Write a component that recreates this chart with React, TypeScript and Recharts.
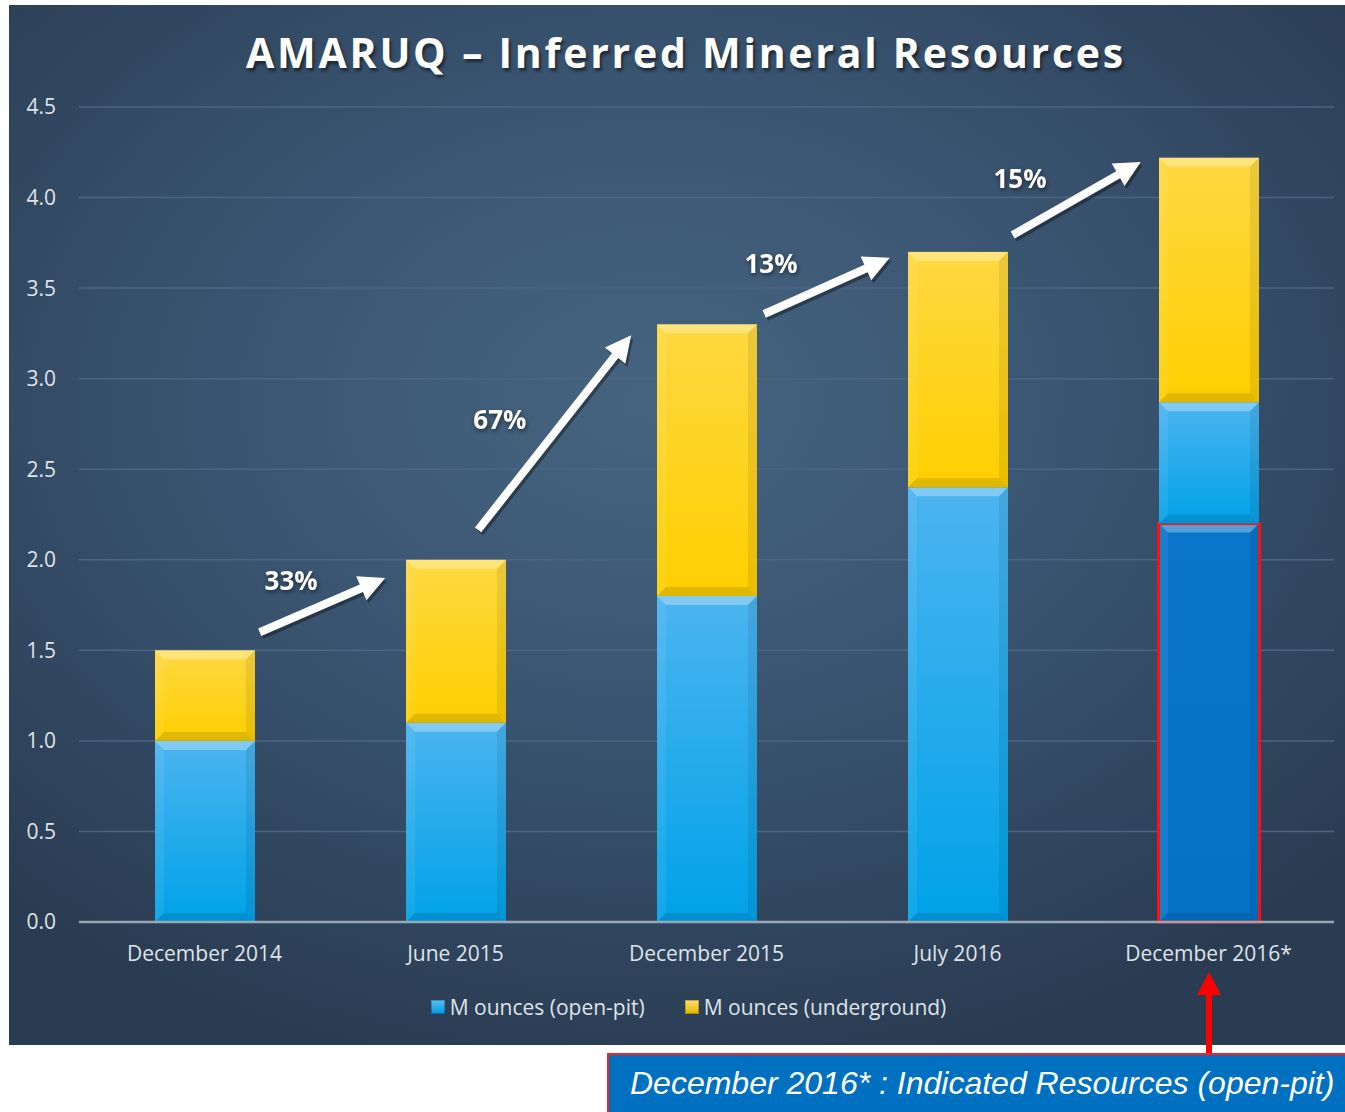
import React from "react";
import {
  BarChart,
  Bar,
  XAxis,
  YAxis,
  CartesianGrid,
  Legend,
  ReferenceLine,
  ReferenceDot,
} from "recharts";

const categories = ["December 2014", "June 2015", "December 2015", "July 2016", "December 2016*"];
const indicatedOpenPit = [0, 0, 0, 0, 2.2];
const inferredOpenPit = [1.0, 1.1, 1.8, 2.4, 0.67];
const inferredUnderground = [0.5, 0.9, 1.5, 1.3, 1.35];
const yTicks = [0, 0.5, 1.0, 1.5, 2.0, 2.5, 3.0, 3.5, 4.0, 4.5];

const growthLabels = ["33%", "67%", "13%", "15%"];
const arrowStartX = [0.72, 1.59, 2.73, 3.72];
const arrowStartY = [1.6, 2.165, 3.357, 3.793];
const arrowEndX = [1.22, 2.2, 3.23, 4.23];
const arrowEndY = [1.9, 3.24, 3.667, 4.197];
const labelX = [0.845, 1.677, 2.757, 3.749];
const labelY = [1.89, 2.777, 3.639, 4.108];

const data = categories.map((c, i) => ({
  name: c,
  pos: i + 0.5,
  indicated: indicatedOpenPit[i],
  openPit: inferredOpenPit[i],
  underground: inferredUnderground[i],
}));

const FONT = "'Open Sans', 'DejaVu Sans', sans-serif";

function makeBevel(fillId: string, indicated: boolean) {
  return (props: any) => {
    const { x, y, width, height } = props;
    if (!height || height <= 0) return <g />;
    const b = Math.min(9, height / 2);
    const x2 = x + width;
    const y2 = y + height;
    return (
      <g>
        <rect x={x} y={y} width={width} height={height} fill={`url(#${fillId})`} />
        <polygon points={`${x},${y} ${x2},${y} ${x2 - b},${y + b} ${x + b},${y + b}`} fill="rgba(255,255,255,0.3)" />
        <polygon points={`${x},${y} ${x + b},${y + b} ${x + b},${y2 - b} ${x},${y2}`} fill="rgba(255,255,255,0.07)" />
        <polygon points={`${x2},${y} ${x2 - b},${y + b} ${x2 - b},${y2 - b} ${x2},${y2}`} fill="rgba(0,0,0,0.08)" />
        <polygon points={`${x},${y2} ${x + b},${y2 - b} ${x2 - b},${y2 - b} ${x2},${y2}`} fill="rgba(0,0,0,0.11)" />
        {indicated && (
          <rect x={x - 0.5} y={y} width={width + 1} height={height} fill="none" stroke="#ff1010" strokeWidth={3} />
        )}
      </g>
    );
  };
}

function ArrowShape(props: any) {
  const { x1, y1, x2, y2 } = props;
  const dx = x2 - x1;
  const dy = y2 - y1;
  const len = Math.sqrt(dx * dx + dy * dy);
  const ux = dx / len;
  const uy = dy / len;
  const px = -uy;
  const py = ux;
  const headLen = 26;
  const headW = 13;
  const shaftW = 4;
  const bx = x2 - ux * headLen;
  const by = y2 - uy * headLen;
  const pts = [
    [x1 + px * shaftW, y1 + py * shaftW],
    [bx + px * shaftW, by + py * shaftW],
    [bx + px * headW, by + py * headW],
    [x2, y2],
    [bx - px * headW, by - py * headW],
    [bx - px * shaftW, by - py * shaftW],
    [x1 - px * shaftW, y1 - py * shaftW],
  ]
    .map((p) => p.join(","))
    .join(" ");
  return (
    <g>
      <polygon points={pts} fill="rgba(0,0,0,0.35)" transform="translate(2,3)" />
      <polygon points={pts} fill="#ffffff" />
    </g>
  );
}

function labelShape(text: string) {
  return (props: any) => (
    <text
      x={props.cx}
      y={props.cy}
      textAnchor="middle"
      dominantBaseline="central"
      fill="#ffffff"
      fontFamily={FONT}
      fontWeight={700}
      fontSize={26}
      style={{ filter: "drop-shadow(1px 2px 2px rgba(0,0,0,0.5))" }}
    >
      {text}
    </text>
  );
}

function LegendContent() {
  const item = (grad: string, label: string) => (
    <span style={{ display: "inline-flex", alignItems: "center", margin: "0 20px" }}>
      <span
        style={{
          display: "inline-block",
          width: 14,
          height: 14,
          background: grad,
          marginRight: 5,
          boxShadow: "inset 0 0 0 1px rgba(0,0,0,0.25)",
        }}
      />
      <span style={{ color: "#dfe3e8", fontSize: 21, fontFamily: FONT }}>{label}</span>
    </span>
  );
  return (
    <div style={{ height: 50, display: "flex", justifyContent: "center", alignItems: "center", paddingLeft: 34 }}>
      {item("linear-gradient(#58c3f5, #0098de)", "M ounces (open-pit)")}
      {item("linear-gradient(#ffe066, #e0b800)", "M ounces (underground)")}
    </div>
  );
}

export default function App() {
  return (
    <div style={{ position: "absolute", left: 0, top: 0, width: 1345, height: 1112, background: "#ffffff" }}>
      <div
        style={{
          position: "absolute",
          left: 9,
          top: 5,
          width: 1336,
          height: 1040,
          background: "radial-gradient(ellipse 70% 65% at 48% 38%, #46647f 0%, #3a5572 45%, #2a3c52 100%)",
        }}
      />
      <div
        style={{
          position: "absolute",
          left: 9,
          top: 5,
          width: 1336,
          height: 1040,
        }}
      >
        <BarChart
          width={1336}
          height={1040}
          data={data}
          margin={{ top: 102, right: 11, left: 0, bottom: 13 }}
          barSize={100}
        >
          <defs>
            <linearGradient id="gBlue" x1="0" y1="0" x2="0" y2="1">
              <stop offset="0%" stopColor="#4cb4f0" />
              <stop offset="100%" stopColor="#00a2e8" />
            </linearGradient>
            <linearGradient id="gYellow" x1="0" y1="0" x2="0" y2="1">
              <stop offset="0%" stopColor="#ffd842" />
              <stop offset="100%" stopColor="#fdcf00" />
            </linearGradient>
            <linearGradient id="gDark" x1="0" y1="0" x2="0" y2="1">
              <stop offset="0%" stopColor="#0a76c9" />
              <stop offset="100%" stopColor="#0572c6" />
            </linearGradient>
          </defs>
          <CartesianGrid vertical={false} stroke="#4d6582" strokeWidth={1.5} />
          <XAxis
            dataKey="name"
            height={60}
            tickSize={0}
            tickMargin={24}
            axisLine={{ stroke: "#9aa6b3", strokeWidth: 2.5 }}
            tick={{ fill: "#dfe3e8", fontSize: 21, fontFamily: FONT }}
          />
          <XAxis xAxisId="n" dataKey="pos" type="number" domain={[0, 5]} hide allowDataOverflow />
          <YAxis
            width={70}
            domain={[0, 4.5]}
            ticks={yTicks}
            tickSize={0}
            tickMargin={23}
            axisLine={false}
            tickFormatter={(v: number) => v.toFixed(1)}
            tick={{ fill: "#dfe3e8", fontSize: 21, fontFamily: FONT }}
            interval={0}
          />
          <Legend verticalAlign="bottom" content={() => <LegendContent />} />
          <Bar dataKey="indicated" stackId="a" isAnimationActive={false} shape={makeBevel("gDark", true)} legendType="none" />
          <Bar dataKey="openPit" stackId="a" isAnimationActive={false} shape={makeBevel("gBlue", false)} />
          <Bar dataKey="underground" stackId="a" isAnimationActive={false} shape={makeBevel("gYellow", false)} />
          {growthLabels.map((g, i) => (
            <ReferenceLine
              key={"a" + i}
              xAxisId="n"
              segment={[
                { x: arrowStartX[i], y: arrowStartY[i] },
                { x: arrowEndX[i], y: arrowEndY[i] },
              ]}
              shape={ArrowShape}
            />
          ))}
          {growthLabels.map((g, i) => (
            <ReferenceDot key={"l" + i} xAxisId="n" x={labelX[i]} y={labelY[i]} r={0} shape={labelShape(g)} />
          ))}
        </BarChart>
      </div>
      <div
        style={{
          position: "absolute",
          left: 18,
          top: 25,
          width: 1336,
          textAlign: "center",
          color: "#ffffff",
          fontFamily: FONT,
          fontWeight: 700,
          fontSize: 41,
          letterSpacing: 2.75,
          lineHeight: "54px",
          textShadow: "2px 3px 3px rgba(0,0,0,0.5)",
        }}
      >
        AMARUQ – Inferred Mineral Resources
      </div>
      <svg style={{ position: "absolute", left: 0, top: 0 }} width={1345} height={1112}>
        <polygon points="1206,1056 1206,995 1197,995 1209,972 1221,995 1212,995 1212,1056" fill="#ff0000" />
      </svg>
      <div
        style={{
          position: "absolute",
          left: 607,
          top: 1053,
          width: 738,
          height: 59,
          boxSizing: "border-box",
          background: "#0070c0",
          borderTop: "2px solid #ff2020",
          borderLeft: "2px solid #ff2020",
          color: "#ffffff",
          fontFamily: "'Liberation Sans', Arial, sans-serif",
          fontStyle: "italic",
          fontSize: 32,
          lineHeight: "57px",
          paddingLeft: 21,
          whiteSpace: "nowrap",
          overflow: "hidden",
        }}
      >
        December 2016* : Indicated Resources (open-pit)
      </div>
    </div>
  );
}
